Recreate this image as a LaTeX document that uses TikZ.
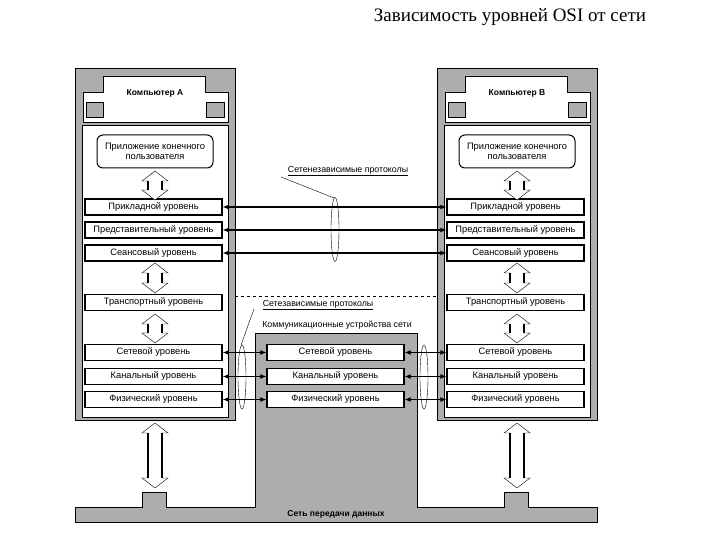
\documentclass[tikz,border=0pt]{standalone}
\usepackage{fontspec}
\setmainfont{Liberation Sans}
\newfontfamily\titlefont{Liberation Serif}
\usetikzlibrary{arrows.meta}
\newcommand\dblarr[3]{% x, ytop, ybottom
 \draw[thin,fill=white] (#1,#2) -- (#1+13,#2+10) -- (#1+7,#2+10) -- (#1+7,#3-10) -- (#1+13,#3-10) -- (#1,#3) -- (#1-13,#3-10) -- (#1-7,#3-10) -- (#1-7,#2+10) -- (#1-13,#2+10) -- cycle;
 \draw[line width=1.5pt] (#1+7,#2+10) -- (#1+7,#3-10) (#1-7,#2+10) -- (#1-7,#3-10);}
\begin{document}
\begin{tikzpicture}[x=1pt,y=-1pt,
 lay/.style={draw,line width=1.2pt,fill=white,minimum width=137pt,minimum height=16pt,inner sep=0pt,font=\fontsize{9.3}{10}\selectfont},
 grey/.style={fill=black!32,draw=black,line width=0.8pt},
 arr/.style={line width=1.1pt,{Latex[length=6pt,width=5pt]}-{Latex[length=6pt,width=5pt]}},
 lbl/.style={font=\fontsize{8.8}{9}\selectfont,inner sep=1pt}]
\useasboundingbox (0,0) rectangle (720,540);
\node[font=\titlefont\fontsize{19}{20}\selectfont] (title) at (510,17) {Зависимость уровней OSI от сети};
% network bar and middle device
\draw[grey] (75,507) -- (142,507) -- (142,492) -- (166,492) -- (166,507) -- (255,507) -- (255,333) -- (417,333) -- (417,507) -- (504,507) -- (504,492) -- (528,492) -- (528,507) -- (597,507) -- (597,522) -- (75,522) -- cycle;
\node[font=\bfseries\fontsize{8.5}{9}\selectfont] (net) at (336,514) {Сеть передачи данных};
\node[lbl] (comm) at (337,325) {Коммуникационные устройства сети};
\foreach \s/\n/\X in {0/A/a,362/B/b}{
 \begin{scope}[xshift=\s]
 \draw[grey] (75,68) rectangle (235,420);
 \draw[fill=white] (103,76) -- (205,76) -- (205,92) -- (228,92) -- (228,122) -- (83,122) -- (83,92) -- (103,92) -- cycle;
 \draw[grey] (86,102) rectangle (103,117);
 \draw[grey] (206,102) rectangle (224,117);
 \node[font=\bfseries\fontsize{8.5}{9}\selectfont] (c\X) at (155,93) {Компьютер \n};
 \draw[fill=white] (82,125) rectangle (228,417);
 \node[draw,line width=1pt,rounded corners=6pt,minimum width=116pt,minimum height=33pt,align=center,font=\fontsize{9.3}{10}\selectfont,inner sep=0pt] (app\X) at (155,151.5) {Приложение конечного\\пользователя};
 \node[lay] (l7\X) at (153.5,207) {Прикладной уровень};
 \node[lay] (l6\X) at (153.5,230) {Представительный уровень};
 \node[lay] (l5\X) at (153.5,253) {Сеансовый уровень};
 \node[lay] (l4\X) at (153.5,302.5) {Транспортный уровень};
 \node[lay] (l3\X) at (153.5,352.5) {Сетевой уровень};
 \node[lay] (l2\X) at (153.5,376.5) {Канальный уровень};
 \node[lay] (l1\X) at (153.5,399.5) {Физический уровень};
 \dblarr{155}{171}{200}
 \dblarr{155}{263}{293}
 \dblarr{155}{314}{343}
 \dblarr{155}{423}{488}
 \end{scope}}
\node[lay] (m3) at (335.5,352.5) {Сетевой уровень};
\node[lay] (m2) at (335.5,376.5) {Канальный уровень};
\node[lay] (m1) at (335.5,399.5) {Физический уровень};
\foreach \k in {7,6,5}{\draw[arr] (l\k a.east) -- (l\k b.west);}
\foreach \k in {3,2,1}{\draw[arr] (l\k a.east) -- (m\k.west); \draw[arr] (m\k.east) -- (l\k b.west);}
\draw[dashed,line width=0.8pt] (235,296) -- (437,296);
\draw (335,229.5) ellipse (4 and 32);
\draw (242,377) ellipse (4 and 32);
\draw (424,377) ellipse (4 and 32);
\node[lbl] (ni) at (348,171) {\underline{Сетенезависимые протоколы}};
\draw (281,177) -- (334,198);
\node[lbl] (nd) at (318,305) {\underline{Сетезависимые протоколы}};
\draw (254,309) -- (241,345);
\end{tikzpicture}
\end{document}
